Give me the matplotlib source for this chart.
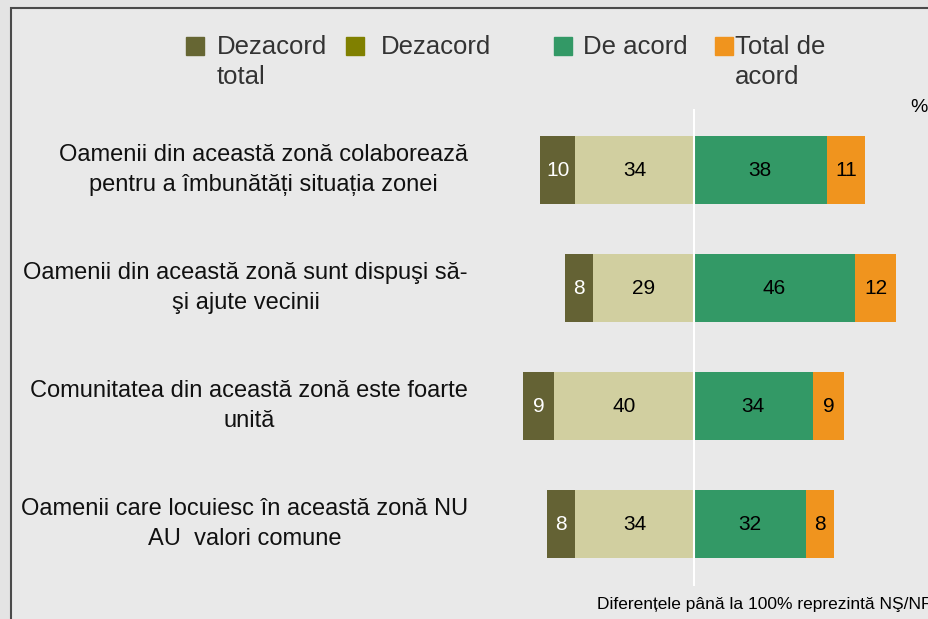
import matplotlib.pyplot as plt
from matplotlib.patches import Rectangle

plt.rcParams['font.family'] = ['Liberation Sans', 'DejaVu Sans']

# Data (percent)
statements = [
    'Oamenii din această zonă colaborează\npentru a îmbunătăți situația zonei',
    'Oamenii din această zonă sunt dispuşi să-\nşi ajute vecinii',
    'Comunitatea din această zonă este foarte\nunită',
    'Oamenii care locuiesc în această zonă NU\nAU  valori comune',
]
total_dezacord = [10, 8, 9, 8]
dezacord = [34, 29, 40, 34]
de_acord = [38, 46, 34, 32]
total_acord = [11, 12, 9, 8]

legend_labels = ['Dezacord\ntotal', 'Dezacord', 'De acord', 'Total de\nacord']
legend_colors = ['#666633', '#808000', '#339966', '#F0941E']
bar_colors = ['#646234', '#D1CFA0', '#339966', '#F0941E']
note = 'Diferențele până la 100% reprezintă NŞ/NR'

W, H = 929, 619
fig = plt.figure(figsize=(W / 100, H / 100), dpi=100)
fig.patch.set_facecolor('#E4E4E4')

# framed panel
fig.patches.append(Rectangle((11 / W, 0 - 0.05), 1.0, 1 - 8 / H + 0.05,
                             transform=fig.transFigure, facecolor='#E9E9E9',
                             edgecolor='#4A4A4A', linewidth=1.5, zorder=-5))

ax = fig.add_axes([0, 0, 1, 1])
ax.set_facecolor('none')
ax.axis('off')
ax.set_zorder(2)
px = 3.49  # pixels per percent
ax.set_xlim(-694 / px, (W - 694) / px)
ax.set_ylim((H - 170) / 118, -170 / 118)

rows = range(len(statements))
h = 0.58
ax.barh(rows, total_dezacord, height=h, left=[-(a + b) for a, b in zip(total_dezacord, dezacord)],
        color=bar_colors[0])
ax.barh(rows, dezacord, height=h, left=[-b for b in dezacord], color=bar_colors[1])
ax.barh(rows, de_acord, height=h, left=0, color=bar_colors[2])
ax.barh(rows, total_acord, height=h, left=de_acord, color=bar_colors[3])

for i in rows:
    ax.text(-dezacord[i] - total_dezacord[i] / 2, i, str(total_dezacord[i]), ha='center',
            va='center', fontsize=15, color='white')
    ax.text(-dezacord[i] / 2, i, str(dezacord[i]), ha='center', va='center', fontsize=15)
    ax.text(de_acord[i] / 2, i, str(de_acord[i]), ha='center', va='center', fontsize=15)
    ax.text(de_acord[i] + total_acord[i] / 2, i, str(total_acord[i]), ha='center',
            va='center', fontsize=15)
    ax.text(468 / W, i, statements[i], transform=ax.get_yaxis_transform(),
            ha='right', va='center', multialignment='center', fontsize=17,
            color='#111111', linespacing=1.45)

ax.axvline(0, ymin=1 - 585 / H, ymax=1 - 110 / H, color='white', lw=1.5, zorder=5)

# legend
sq_x = [186, 346, 554, 715]
tx_x = [217, 381, 583, 735]
for lab, col, sx, tx in zip(legend_labels, legend_colors, sq_x, tx_x):
    fig.patches.append(Rectangle((sx / W, 1 - 55 / H), 18 / W, 18 / H,
                                 transform=fig.transFigure, color=col))
    fig.text(tx / W, 1 - 35 / H, lab, ha='left', va='top', fontsize=18.5,
             color='#333333', linespacing=1.3)

fig.text(910 / W, 1 - 107 / H, '%', ha='left', va='center', fontsize=14)
fig.text(597 / W, 1 - 604 / H, note, ha='left', va='center', fontsize=12.5)

fig.savefig('out.png', dpi=100, facecolor=fig.get_facecolor())
